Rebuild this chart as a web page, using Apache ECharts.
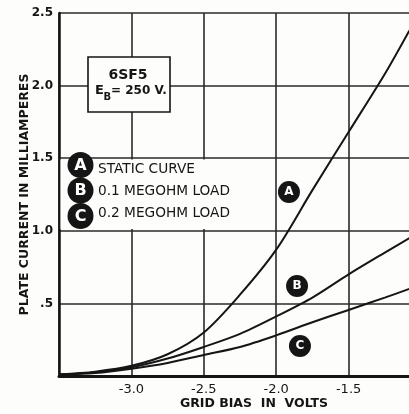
<!DOCTYPE html>
<html><head><meta charset="utf-8">
<script src="https://cdn.jsdelivr.net/npm/echarts@6/dist/echarts.min.js"></script>
<style>html,body{margin:0;padding:0;background:#fdfdfb}#c{width:409px;height:414px}</style>
</head><body><div id="c"></div>
<script>
// Grid bias (volts)
var gridBias = [-3.5, -3.25, -3.0, -2.75, -2.5, -2.25, -2.0, -1.75, -1.5, -1.25, -1.08];
// Plate current (mA)
var curveA = [0.01, 0.03, 0.07, 0.15, 0.30, 0.56, 0.87, 1.28, 1.68, 2.08, 2.38]; // static curve
var curveB = [0.01, 0.025, 0.06, 0.12, 0.20, 0.29, 0.41, 0.54, 0.70, 0.85, 0.95]; // 0.1 megohm load
var curveC = [0.01, 0.02, 0.05, 0.09, 0.145, 0.20, 0.28, 0.37, 0.455, 0.54, 0.60]; // 0.2 megohm load
var xTicks = ['-3.0', '-2.5', '-2.0', '-1.5'];
var yTicks = ['.5', '1.0', '1.5', '2.0', '2.5'];
var legendItems = [['A', 'STATIC CURVE'], ['B', '0.1 MEGOHM LOAD'], ['C', '0.2 MEGOHM LOAD']];
var curveLabels = [['A', -1.912, 1.267], ['B', -1.856, 0.62], ['C', -1.836, 0.207]];

function pairs(ys){ return gridBias.map(function(x,i){ return [x, ys[i]]; }); }
var F = 'DejaVu Sans';
var INK = '#151515';

function series(name, ys, idx){
  var lab = curveLabels[idx];
  return {
    name: name, type: 'line', data: pairs(ys), smooth: 0.3,
    showSymbol: false, lineStyle: {color: INK, width: 2}, clip: true,
    markPoint: {
      symbol: 'circle', symbolSize: 22, itemStyle: {color: INK},
      label: {show: true, color: '#fff', fontFamily: F, fontWeight: 'bold', fontSize: 12, formatter: function(p){ return p.value; }},
      data: [{coord: [lab[1], lab[2]], value: lab[0]}]
    }
  };
}

var g = [];
// legend box
g.push({type:'rect', shape:{x:60.5, y:159.5, width:190, height:69.5}, style:{fill:'#fdfdfb'}, z:10});
var ly = [165, 190.5, 216], ty = [169, 191, 213];
legendItems.forEach(function(it, i){
  g.push({type:'circle', shape:{cx:80.5, cy:ly[i], r:13}, style:{fill:INK}, z:11});
  g.push({type:'text', x:80.5, y:ly[i]+0.5, style:{text:it[0], fill:'#fff', font:'bold 16px "DejaVu Sans"', align:'center', verticalAlign:'middle'}, z:12});
  g.push({type:'text', x:98, y:ty[i], style:{text:it[1], fill:INK, font:'13.7px "DejaVu Sans"', align:'left', verticalAlign:'middle'}, z:12});
});
// tube box
g.push({type:'rect', shape:{x:88, y:57, width:82, height:55}, style:{fill:'#fdfdfb', stroke:INK, lineWidth:1.6}, z:10});
g.push({type:'text', x:128, y:75, style:{text:'6SF5', fill:INK, font:'bold 14px "DejaVu Sans"', align:'center', verticalAlign:'middle'}, z:12});
g.push({type:'text', x:95, y:91, style:{text:'E', fill:INK, font:'bold 13px "DejaVu Sans"', align:'left', verticalAlign:'middle'}, z:12});
g.push({type:'text', x:103.5, y:97, style:{text:'B', fill:INK, font:'bold 10px "DejaVu Sans"', align:'left', verticalAlign:'middle'}, z:12});
g.push({type:'text', x:111, y:91, style:{text:'= 250 V.', fill:INK, font:'bold 12px "DejaVu Sans"', align:'left', verticalAlign:'middle'}, z:12});

var chart = echarts.init(document.getElementById('c'), null, {renderer:'canvas'});
chart.setOption({
  backgroundColor: '#fdfdfb',
  animation: false,
  grid: {left: 59, top: 13, bottom: 38, right: -12, containLabel: false, outerBoundsMode: 'none'},
  xAxis: {
    type: 'value', min: -3.5, max: -1.0, interval: 0.5,
    name: 'GRID BIAS  IN  VOLTS', nameLocation: 'middle', nameGap: 21, nameMoveOverlap: false,
    nameTextStyle: {fontFamily: F, fontWeight: 'bold', fontSize: 12.5, color: INK, padding: [0,0,0,28]},
    axisLine: {show: true, onZero: false, lineStyle: {color: INK, width: 3}},
    axisTick: {show: false},
    splitLine: {show: true, lineStyle: {color: '#2a2a2a', width: 1.6}},
    axisLabel: {
      margin: 7, fontFamily: F, fontSize: 13, color: INK,
      formatter: function(v){ var s = v.toFixed(1); return xTicks.indexOf(s) >= 0 ? s : ''; }
    }
  },
  yAxis: {
    type: 'value', min: 0, max: 2.5, interval: 0.5,
    name: 'PLATE CURRENT IN MILLIAMPERES', nameLocation: 'middle', nameGap: 28, nameRotate: 90, nameMoveOverlap: false,
    nameTextStyle: {fontFamily: F, fontWeight: 'bold', fontSize: 12.5, color: INK},
    axisLine: {show: true, lineStyle: {color: INK, width: 2.5}},
    axisTick: {show: false},
    splitLine: {show: true, lineStyle: {color: '#2a2a2a', width: 1.6}},
    axisLabel: {
      margin: 6, fontFamily: F, fontWeight: 'bold', fontSize: 12, color: INK,
      formatter: function(v){ var s = v.toFixed(1); if (s === '0.5') s = '.5'; return yTicks.indexOf(s) >= 0 ? s : ''; }
    }
  },
  series: [series('A', curveA, 0), series('B', curveB, 1), series('C', curveC, 2)],
  graphic: g
});
</script></body></html>
